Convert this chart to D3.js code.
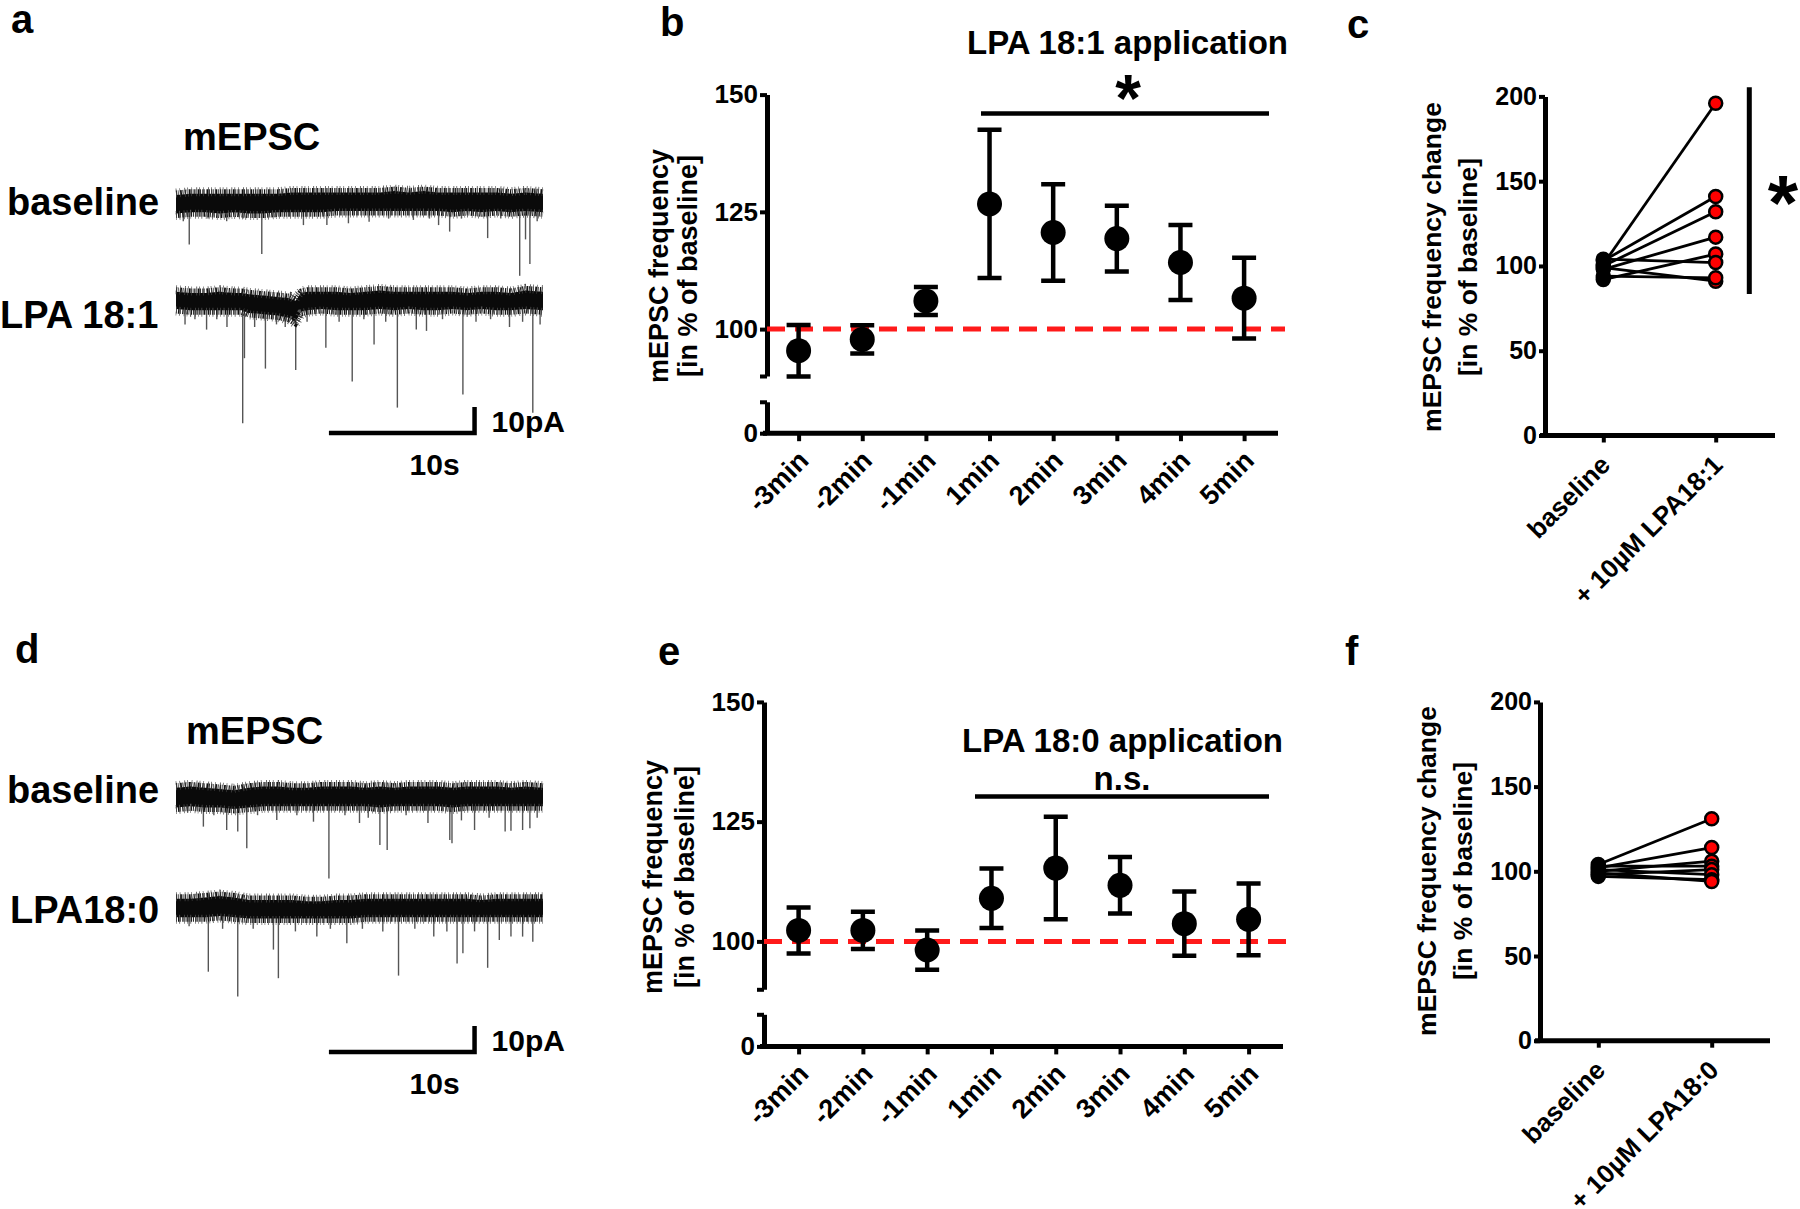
<!DOCTYPE html>
<html>
<head>
<meta charset="utf-8">
<script src="https://cdn.jsdelivr.net/npm/d3@7"></script>
<style>
  html, body { margin: 0; padding: 0; background: #fff; }
  svg text { font-family: "Liberation Sans", Arial, sans-serif; font-weight: bold; fill: #000; }
</style>
</head>
<body>
<svg id="fig" width="1800" height="1209"></svg>
<script>
'use strict';

// ---------- data ----------
const timeLabels = ["-3min", "-2min", "-1min", "1min", "2min", "3min", "4min", "5min"];

// panel b: LPA 18:1, mean and SEM in % of baseline
const lpa181Mean = [95.4, 97.8, 106.0, 126.7, 120.6, 119.3, 114.2, 106.6];
const lpa181Sem  = [5.5, 3.0, 3.0, 15.8, 10.3, 7.0, 8.0, 8.6];

// panel e: LPA 18:0
const lpa180Mean = [102.3, 102.3, 98.2, 109.0, 115.3, 111.7, 103.7, 104.6];
const lpa180Sem  = [4.8, 3.9, 4.1, 6.2, 10.7, 5.9, 6.7, 7.5];

const timeTicks = [100, 125, 150];
const pairedTicks = [0, 50, 100, 150, 200];

// panel c / f: paired cells
const catsC = ["baseline", "+ 10\u00B5M LPA18:1"];
const catsF = ["baseline", "+ 10\u00B5M LPA18:0"];
const baselineC = [101, 103, 100, 98, 92, 104, 99, 94];
const lpaC      = [196, 141, 132, 117, 107, 102, 91, 93];
const baselineF = [104, 102, 100, 103, 98, 101, 97, 99];
const lpaF      = [131, 114, 106, 103, 101, 98, 95, 94];

// example traces: dense noise band [time s, top pA, bottom pA] and events [time s, amplitude pA]
const envBaseA = [[0,2.5,-3.5],[1,3,-3],[2,3,-3],[3,3,-3.5],[4,3,-3],[5,3,-3.5],[6,3,-3.5],[7,3,-3],[8,3.5,-3],[9,3.5,-3],[10,3.5,-3],[11,3.5,-2.5],[12,3.5,-2.5],[13,3.5,-2.5],[14,3.5,-2.5],[15,4,-2.5],[16,3.5,-2.5],[17,4,-2.5],[18,3.5,-2.5],[19,3.5,-3],[20,3.5,-2.5],[21,3.5,-3],[22,3.5,-2.5],[23,3,-3],[24,3.5,-2.5],[25.2,3,-3]];
const evBaseA = [[0.5,7],[0.91,16],[2.2,6],[3.48,7],[4.6,6],[5.89,19.6],[6.8,5.5],[8.75,8.5],[10.36,8.5],[11.84,7.8],[13.26,7.2],[14.6,6],[16.3,6.5],[17.4,6],[18.03,8.5],[18.79,11],[19.6,6],[21.4,13.5],[22.3,6],[23.6,28],[24.0,14],[24.3,23.5],[24.8,7]];

const envLpaA = [[0,3,-2.5],[1,2.5,-3],[2,2.5,-3],[3,3,-3],[4,2.5,-3],[4.5,2.5,-3],[5,2,-4],[6,1.5,-4.5],[7,1,-5],[7.8,0.5,-6],[8.2,-0.5,-7.5],[8.6,2.5,-3.5],[9,3,-3],[10,3,-2.5],[11,3,-3],[12,2.5,-3],[13,3,-3],[14,3.5,-2.5],[15,3,-3],[16,3,-2.5],[17,3,-3],[18,3,-3],[19,3,-2.5],[20,2.5,-3],[21,3,-2.5],[22,3,-3],[23,2.5,-3],[24,3.5,-2.5],[25.2,3,-3]];
const evLpaA = [[0.62,9],[1.3,7],[2.1,11],[2.8,7],[3.5,10],[4.58,47],[4.7,22],[5.4,10],[6.14,26],[6.9,9],[7.5,10],[8.22,26.5],[9.0,8],[10.29,18],[11.2,8],[12.1,31],[12.9,7],[13.6,16.7],[14.4,8],[15.2,41],[16.5,11],[17.2,11.5],[18.3,7],[19.7,36],[20.6,8],[21.6,7],[22.9,10],[23.8,8],[24.5,43],[25,9]];

const envBaseD = [[0,3,-3.5],[1,3.5,-3],[2,3,-3.5],[3,2.5,-3.5],[4,2,-4],[5,3,-3.5],[6,3.5,-3],[7,3.5,-3],[8,3,-3],[9,3,-3],[10,3.5,-3],[11,3.5,-3],[12,3.5,-3],[13,3,-3],[14,3.5,-3.5],[15,3,-3],[16,3.5,-3],[17,3.5,-3],[18,3.5,-3],[19,3,-3.5],[20,3.5,-3],[21,3.5,-3],[22,3.5,-3],[23,3,-3],[24,3.5,-3],[25.2,3,-3]];
const evBaseD = [[0.8,6],[1.88,11.4],[2.6,7],[3.48,12.7],[4.24,13.3],[4.86,19.7],[5.6,7],[6.92,8.8],[8.3,7],[9.44,9.5],[10.5,31.3],[11.6,7],[12.6,10],[13.2,8],[14.0,18.5],[14.5,20.4],[15.8,7],[17.3,10],[18.8,16.5],[18.95,17.8],[19.6,9],[20.5,12.7],[21.5,8],[22.6,13.3],[23.0,13],[23.8,12.7],[24.3,12],[24.8,8]];

const envLpaD = [[0,3,-3],[1,3,-3],[2,3.5,-3],[3,4,-2.5],[4,3.5,-3],[5,2.5,-3.5],[6,2.5,-3.5],[7,2.5,-3.5],[8,2.5,-3.5],[9,2,-3.5],[10,2,-3.5],[11,2.5,-3.5],[12,2.5,-3.5],[13,3,-3],[14,3,-3],[15,3,-3],[16,3,-3],[17,3,-3],[18,3,-3],[19,3,-3],[20,3,-3],[21,2.5,-3],[22,3,-3],[23,3,-3],[24,3,-3],[25.2,3,-3]];
const evLpaD = [[0.9,7],[2.22,24.5],[3.2,8],[4.24,34],[5.3,8],[6.69,16],[7.03,27],[8.2,9],[9.67,11],[10.6,8],[11.73,13.6],[12.8,8],[14.2,9],[15.28,26],[16.4,8],[17.7,11],[18.6,9],[19.3,21.3],[19.7,17.4],[20.5,9],[21.4,23],[22.2,12.3],[23.0,11],[23.8,11],[24.5,13]];

// ---------- drawing ----------
let svg = d3.select("#fig");

function label(x, y, txt, size, anchor) {
    return svg.append("text")
        .attr("x", x).attr("y", y)
        .attr("text-anchor", anchor || "start")
        .style("font-size", size + "px")
        .text(txt);
}

function drawTrace(cy, envelope, events) {
    let x = d3.scaleLinear().domain([0, 25.2]).range([176, 543]);
    let y = d3.scaleLinear().domain([0, -10]).range([cy, cy + 26]);
    let g = svg.append("g");

    g.selectAll("line")
        .data(events)
        .enter().append("line")
        .attr("x1", d => x(d[0])).attr("x2", d => x(d[0]))
        .attr("y1", y(0)).attr("y2", d => y(-d[1]))
        .attr("stroke", "#555")
        .attr("stroke-width", 1.4);

    g.append("path").datum(envelope)
        .attr("d", d3.area().x(d => x(d[0])).y0(d => y(d[2]) + 1.5).y1(d => y(d[1]) - 1.5))
        .attr("fill", "#0a0a0a");

    // ragged noise fringe along both edges
    let top = d3.line().x(d => x(d[0])).y(d => y(d[1]) - 3.5);
    let bot = d3.line().x(d => x(d[0])).y(d => y(d[2]) + 3.5);
    g.append("path").datum(envelope).attr("d", top)
        .attr("fill", "none").attr("stroke", "#111").attr("stroke-width", 5)
        .attr("stroke-dasharray", "1.2,0.8,0.6,1.5,1.8,0.7,0.9,1.3");
    g.append("path").datum(envelope).attr("d", top)
        .attr("fill", "none").attr("stroke", "#444").attr("stroke-width", 9)
        .attr("stroke-dasharray", "0.7,3.1,0.6,4.3,0.8,2.2");
    g.append("path").datum(envelope).attr("d", bot)
        .attr("fill", "none").attr("stroke", "#111").attr("stroke-width", 5)
        .attr("stroke-dasharray", "0.9,1.1,1.6,0.6,0.7,1.4,1.3,0.9");
    g.append("path").datum(envelope).attr("d", bot)
        .attr("fill", "none").attr("stroke", "#555").attr("stroke-width", 9)
        .attr("stroke-dasharray", "0.6,2.7,0.8,3.9,0.7,2.4");
    return { x, y };
}

function drawScaleBar(scales, t0, barY) {
    let { x, y } = scales;
    let h = y(-10) - y(0);
    svg.append("path")
        .attr("d", "M" + x(t0) + "," + barY + "H" + x(t0 + 10) + "V" + (barY - h))
        .attr("fill", "none")
        .attr("stroke", "#000")
        .attr("stroke-width", 4.5);
    label(x(t0 + 10) + 17, barY - 1, "10pA", 30);
    label(x(t0 + 10) - 40, barY + 42, "10s", 30, "middle");
}

function drawTraces(top, labels) {
    label(top.mx, top.my, "mEPSC", 38);
    label(7, top.by, "baseline", 38);
    label(top.lx, top.ly, labels.name, 38);
    drawTrace(top.bc, labels.envB, labels.evB);
    let sc = drawTrace(top.lc, labels.envL, labels.evL);
    drawScaleBar(sc, 10.5, top.bar);
}

function yTitle(x1, x2, cy, lines, size) {
    svg.append("text")
        .attr("transform", "translate(" + x1 + "," + cy + ") rotate(-90)")
        .attr("text-anchor", "middle")
        .style("font-size", size + "px")
        .text(lines[0]);
    svg.append("text")
        .attr("transform", "translate(" + x2 + "," + cy + ") rotate(-90)")
        .attr("text-anchor", "middle")
        .style("font-size", size + "px")
        .text(lines[1]);
}

function styleAxis(g, width) {
    g.select(".domain").attr("stroke-width", width);
    g.selectAll(".tick line").attr("stroke-width", 4);
    g.selectAll("text").style("font-size", "26px").attr("fill", "#000");
}

function drawTimeCourse(cfg, means, sems, title, sig) {
    let x = d3.scalePoint().domain(timeLabels).range([cfg.t0, cfg.t1]);
    let yUp = d3.scaleLinear().domain([90, 150]).range([cfg.y90, cfg.y150]);
    let yLow = d3.scaleLinear().domain([0, 6.7]).range([cfg.y0, cfg.y0 - 6.7 * (cfg.y90 - cfg.y150) / 60]);

    // y axis in two pieces (broken)
    let gu = svg.append("g").attr("transform", "translate(" + cfg.ax + ",0)")
        .call(d3.axisLeft(yUp).tickValues([90].concat(timeTicks)).tickSize(7).tickSizeOuter(0).tickPadding(2)
            .tickFormat(d => d === 90 ? "" : d));
    styleAxis(gu, 5);
    let gl = svg.append("g").attr("transform", "translate(" + cfg.ax + ",0)")
        .call(d3.axisLeft(yLow).tickValues([0, 6.7]).tickSize(7).tickSizeOuter(0).tickPadding(2)
            .tickFormat(d => d === 0 ? "0" : ""));
    styleAxis(gl, 5);

    // x axis
    svg.append("line")
        .attr("x1", cfg.ax - 4).attr("x2", cfg.xEnd)
        .attr("y1", cfg.y0).attr("y2", cfg.y0)
        .attr("stroke", "#000").attr("stroke-width", 5);
    let gx = svg.append("g").attr("transform", "translate(0," + cfg.y0 + ")")
        .call(d3.axisBottom(x).tickSize(8).tickSizeOuter(0));
    gx.select(".domain").remove();
    styleAxis(gx, 5);
    gx.selectAll("text")
        .style("font-size", "27px")
        .attr("y", 0).attr("dy", null)
        .attr("text-anchor", "end")
        .attr("transform", "translate(11,29) rotate(-45)");

    // baseline reference
    svg.append("line")
        .attr("x1", cfg.ax).attr("x2", cfg.dashEnd)
        .attr("y1", yUp(100)).attr("y2", yUp(100))
        .attr("stroke", "#ff1a1a").attr("stroke-width", 5)
        .attr("stroke-dasharray", "18,10");

    // error bars
    let eb = svg.append("g");
    means.forEach((m, i) => {
        let cx = x(timeLabels[i]);
        let lo = yUp(m - sems[i]), hi = yUp(m + sems[i]);
        eb.append("path")
            .attr("d", "M" + cx + "," + lo + "V" + hi + "M" + (cx - 12) + "," + hi + "H" + (cx + 12) +
                "M" + (cx - 12) + "," + lo + "H" + (cx + 12))
            .attr("fill", "none").attr("stroke", "#000").attr("stroke-width", 4.5);
    });
    svg.append("g").selectAll("circle")
        .data(means)
        .enter().append("circle")
        .attr("cx", (d, i) => x(timeLabels[i]))
        .attr("cy", d => yUp(d))
        .attr("r", 12.5)
        .attr("fill", "#000");

    yTitle(cfg.tx1, cfg.tx2, cfg.tcy, ["mEPSC frequency", "[in % of baseline]"], 27);

    label(cfg.titleX, cfg.titleY, title, 33, "end");
    svg.append("line")
        .attr("x1", cfg.sig0).attr("x2", cfg.sig1)
        .attr("y1", cfg.sigY).attr("y2", cfg.sigY)
        .attr("stroke", "#000").attr("stroke-width", 4.5);
    label(sig.x, sig.y, sig.text, sig.size, "middle");
}

function drawPaired(cfg, cats, base, lpa) {
    let x = d3.scalePoint().domain(cats).range([cfg.t0, cfg.t1]);
    let y = d3.scaleLinear().domain([0, 200]).range([cfg.y0, cfg.y200]);

    let gy = svg.append("g").attr("transform", "translate(" + cfg.ax + ",0)")
        .call(d3.axisLeft(y).tickValues(pairedTicks).tickSize(6).tickSizeOuter(0).tickPadding(2));
    styleAxis(gy, 5);
    gy.selectAll("text").style("font-size", "25px");

    svg.append("line")
        .attr("x1", cfg.ax - 5).attr("x2", cfg.xEnd)
        .attr("y1", cfg.y0).attr("y2", cfg.y0)
        .attr("stroke", "#000").attr("stroke-width", 5);
    let gx = svg.append("g").attr("transform", "translate(0," + cfg.y0 + ")")
        .call(d3.axisBottom(x).tickSize(7).tickSizeOuter(0));
    gx.select(".domain").remove();
    styleAxis(gx, 5);
    gx.selectAll("text")
        .attr("y", 0).attr("dy", null)
        .attr("text-anchor", "end")
        .attr("transform", "translate(8,31) rotate(-45)");

    let pairs = base.map((b, i) => ({ b: b, l: lpa[i] }));
    svg.append("g").selectAll("line")
        .data(pairs)
        .enter().append("line")
        .attr("x1", x(cats[0])).attr("x2", x(cats[1]))
        .attr("y1", d => y(d.b)).attr("y2", d => y(d.l))
        .attr("stroke", "#000").attr("stroke-width", 2.8);
    svg.append("g").selectAll("circle")
        .data(base)
        .enter().append("circle")
        .attr("cx", x(cats[0])).attr("cy", d => y(d))
        .attr("r", 6.5).attr("fill", "#000").attr("stroke", "#000").attr("stroke-width", 2.5);
    svg.append("g").selectAll("circle")
        .data(lpa)
        .enter().append("circle")
        .attr("cx", x(cats[1])).attr("cy", d => y(d))
        .attr("r", 6.5).attr("fill", "#ff0000").attr("stroke", "#000").attr("stroke-width", 2.5);

    yTitle(cfg.tx1, cfg.tx2, cfg.tcy, ["mEPSC frequency change", "[in % of baseline]"], 26.5);
}

// panel letters
label(11, 33, "a", 40);
label(660, 36, "b", 40);
label(1347, 38, "c", 40);
label(15, 663, "d", 40);
label(658, 665, "e", 40);
label(1345, 665, "f", 40);

// a
drawTraces({ mx: 183, my: 150, by: 215, lx: 0, ly: 328, bc: 203, lc: 301, bar: 433 },
    { name: "LPA 18:1", envB: envBaseA, evB: evBaseA, envL: envLpaA, evL: evLpaA });
// d
drawTraces({ mx: 186, my: 744, by: 803, lx: 10, ly: 923, bc: 797, lc: 908, bar: 1052 },
    { name: "LPA18:0", envB: envBaseD, evB: evBaseD, envL: envLpaD, evL: evLpaD });

// b
drawTimeCourse({ ax: 767, t0: 798.6, t1: 1244.1, y90: 376, y150: 94.6, y0: 433.2, xEnd: 1278,
        dashEnd: 1285, tx1: 668, tx2: 697, tcy: 266, titleX: 1288, titleY: 54,
        sig0: 981, sig1: 1269, sigY: 113.5 },
    lpa181Mean, lpa181Sem, "LPA 18:1 application", { x: 1128, y: 121, text: "*", size: 66 });

// e
drawTimeCourse({ ax: 764, t0: 798.6, t1: 1248.6, y90: 989.3, y150: 701.9, y0: 1046.4, xEnd: 1283,
        dashEnd: 1289, tx1: 662, tx2: 694, tcy: 877, titleX: 1283, titleY: 752,
        sig0: 975, sig1: 1269, sigY: 796.6 },
    lpa180Mean, lpa180Sem, "LPA 18:0 application", { x: 1122, y: 790, text: "n.s.", size: 33 });

// c
drawPaired({ ax: 1545, t0: 1603.3, t1: 1715.7, y0: 435.5, y200: 96.4, xEnd: 1775,
    tx1: 1441, tx2: 1477, tcy: 267 }, catsC, baselineC, lpaC);
svg.append("line")
    .attr("x1", 1749.3).attr("x2", 1749.3).attr("y1", 87.3).attr("y2", 294)
    .attr("stroke", "#000").attr("stroke-width", 5);
label(1783, 230, "*", 78, "middle");

// f
drawPaired({ ax: 1540, t0: 1598.3, t1: 1711.7, y0: 1040.7, y200: 701.9, xEnd: 1770,
    tx1: 1436, tx2: 1472, tcy: 871 }, catsF, baselineF, lpaF);
</script>
</body>
</html>
